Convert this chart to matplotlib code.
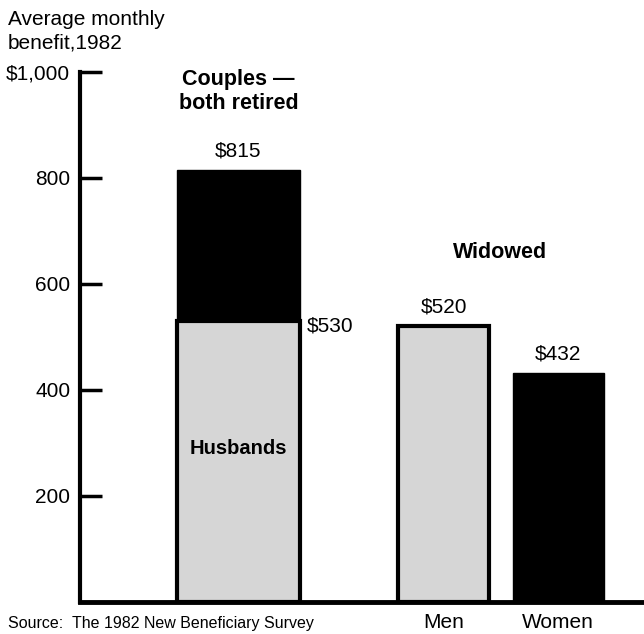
import matplotlib
matplotlib.use("Agg")
import matplotlib.pyplot as plt

plt.rcParams['font.family'] = ['Liberation Sans', 'DejaVu Sans']

# Data
husbands = 530
couples_total = 815
widowed_groups = ["Men", "Women"]
widowed_values = [520, 432]
y_ticks = [200, 400, 600, 800, 1000]
y_tick_labels = ["200", "400", "600", "800", "$1,000"]

light = "#d6d6d6"
dark = "#000000"

fig = plt.figure(figsize=(6.44, 6.34), dpi=100)
ax = fig.add_axes([0.124, 0.0505, 0.876, 0.836])

couple_x = 2.81
couple_w = 2.18
wid_x = [6.45, 8.48]
wid_w = 1.62

# Couples stacked bar
ax.bar(couple_x, husbands, width=couple_w, color=light, edgecolor="black", linewidth=3)
ax.bar(couple_x, couples_total - husbands, bottom=husbands, width=couple_w,
       color=dark, edgecolor="black", linewidth=1)

# Widowed bars
ax.bar(wid_x[0], widowed_values[0], width=wid_w, color=light, edgecolor="black", linewidth=3)
ax.bar(wid_x[1], widowed_values[1], width=wid_w, color=dark, edgecolor="black", linewidth=1)

# Value labels
ax.text(couple_x, couples_total + 18, "$" + str(couples_total), ha="center", va="bottom", fontsize=15)
ax.text(couple_x + couple_w / 2 + 0.12, husbands - 10, "$" + str(husbands), ha="left", va="center", fontsize=15)
for x, v in zip(wid_x, widowed_values):
    ax.text(x, v + 18, "$" + str(v), ha="center", va="bottom", fontsize=15)

ax.text(couple_x, 290, "Husbands", ha="center", va="center", fontsize=14.5, fontweight="bold")
ax.text(couple_x, 963, "Couples \u2014\nboth retired", ha="center", va="center",
        fontsize=15.5, fontweight="bold", linespacing=1.2)
ax.text(7.45, 660, "Widowed", ha="center", va="center", fontsize=15.5, fontweight="bold")

# Axes styling
ax.set_xlim(0, 10)
ax.set_ylim(0, 1000)
ax.spines["top"].set_visible(False)
ax.spines["right"].set_visible(False)
ax.spines["left"].set_linewidth(3)
ax.spines["bottom"].set_linewidth(3.5)
ax.spines["left"].set_capstyle("projecting")
ax.set_yticks(y_ticks)
ax.set_yticklabels(y_tick_labels, fontsize=15)
ax.tick_params(axis="y", direction="in", length=16, width=2.5, pad=7)
ax.set_xticks(wid_x)
ax.set_xticklabels(widowed_groups, fontsize=15)
ax.tick_params(axis="x", length=0, pad=8)

fig.text(0.012, 0.985, "Average monthly\nbenefit,1982", ha="left", va="top", fontsize=15, linespacing=1.3)
fig.text(0.012, 0.004, "Source:  The 1982 New Beneficiary Survey", ha="left", va="bottom", fontsize=11.5)

fig.savefig("out.png", dpi=100)
